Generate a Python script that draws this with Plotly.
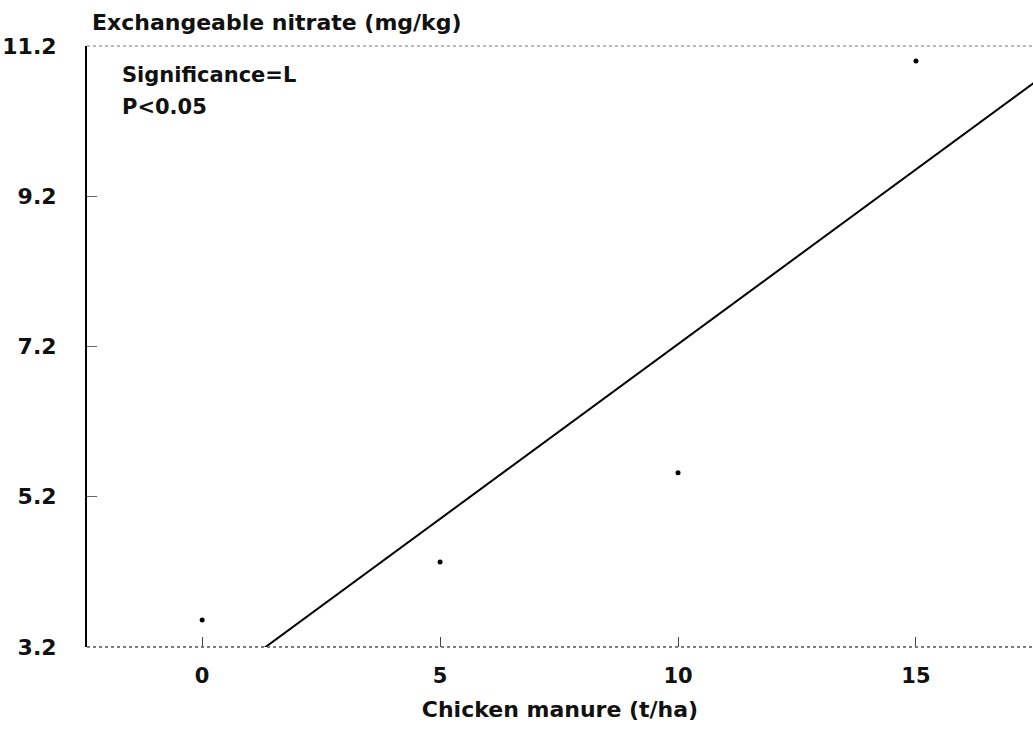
import plotly.graph_objects as go

# Données
manure = [0, 5, 10, 15]
nitrate = [3.56, 4.33, 5.52, 11.0]

# Droite de régression (extrémités)
fit_x = [0, 17.5]
fit_y = [2.58, 10.72]

y_ticks = [3.2, 5.2, 7.2, 9.2, 11.2]
x_ticks = [0, 5, 10, 15]

FONT = "DejaVu Sans"


def b(t):
    return f"<b>{t}</b>"


fig = go.Figure()

fig.add_trace(go.Scatter(
    x=fit_x, y=fit_y,
    mode="lines",
    line=dict(color="black", width=2),
    showlegend=False,
))

fig.add_trace(go.Scatter(
    x=manure, y=nitrate,
    mode="markers",
    marker=dict(color="black", size=5),
    showlegend=False,
))

# bordures haut / bas en pointillé (aspect scanné)
fig.add_shape(type="line", xref="paper", yref="paper", x0=0, x1=1, y0=1, y1=1,
              line=dict(color="#777777", width=1, dash="dot"))
fig.add_shape(type="line", xref="paper", yref="paper", x0=0, x1=1, y0=0, y1=0,
              line=dict(color="#555555", width=1.5, dash="dot"))

fig.add_annotation(x=0.003, y=1.0, xref="paper", yref="paper",
                   text=b("Exchangeable nitrate (mg/kg)"), showarrow=False,
                   xanchor="left", yanchor="middle", yshift=24,
                   font=dict(family=FONT, size=22, color="#111111"))
fig.add_annotation(x=0.035, y=0.952, xref="paper", yref="paper",
                   text=b("Significance=L"), showarrow=False,
                   xanchor="left", yanchor="middle",
                   font=dict(family=FONT, size=21, color="#111111"))
fig.add_annotation(x=0.035, y=0.899, xref="paper", yref="paper",
                   text=b("P&lt;0.05"), showarrow=False,
                   xanchor="left", yanchor="middle",
                   font=dict(family=FONT, size=21, color="#111111"))

fig.update_xaxes(
    range=[-2.42, 17.46],
    tickvals=x_ticks,
    ticktext=[b(v) for v in x_ticks],
    ticks="inside", ticklen=10, tickcolor="#444444",
    ticklabelstandoff=14,
    showgrid=False, zeroline=False, showline=False,
    automargin=False,
    tickfont=dict(family=FONT, size=21, color="#111111"),
    title=dict(text=b("Chicken manure (t/ha)"), standoff=14,
               font=dict(family=FONT, size=22, color="#111111")),
)
fig.update_yaxes(
    range=[3.2, 11.2],
    tickvals=y_ticks,
    ticktext=[b(f"{v:.1f}") for v in y_ticks],
    ticks="inside", ticklen=10, tickcolor="#666666",
    ticklabelstandoff=24,
    showgrid=False, zeroline=False,
    showline=True, linecolor="black", linewidth=2,
    automargin=False,
    tickfont=dict(family=FONT, size=22, color="#111111"),
)

fig.update_layout(
    width=1033, height=736,
    margin=dict(l=87, r=0, t=46, b=89),
    plot_bgcolor="white",
    paper_bgcolor="white",
)

# enlève la marge par défaut de la page
fig.write_html("out.html", config={"displayModeBar": False},
               post_script="document.body.style.margin='0px';")
